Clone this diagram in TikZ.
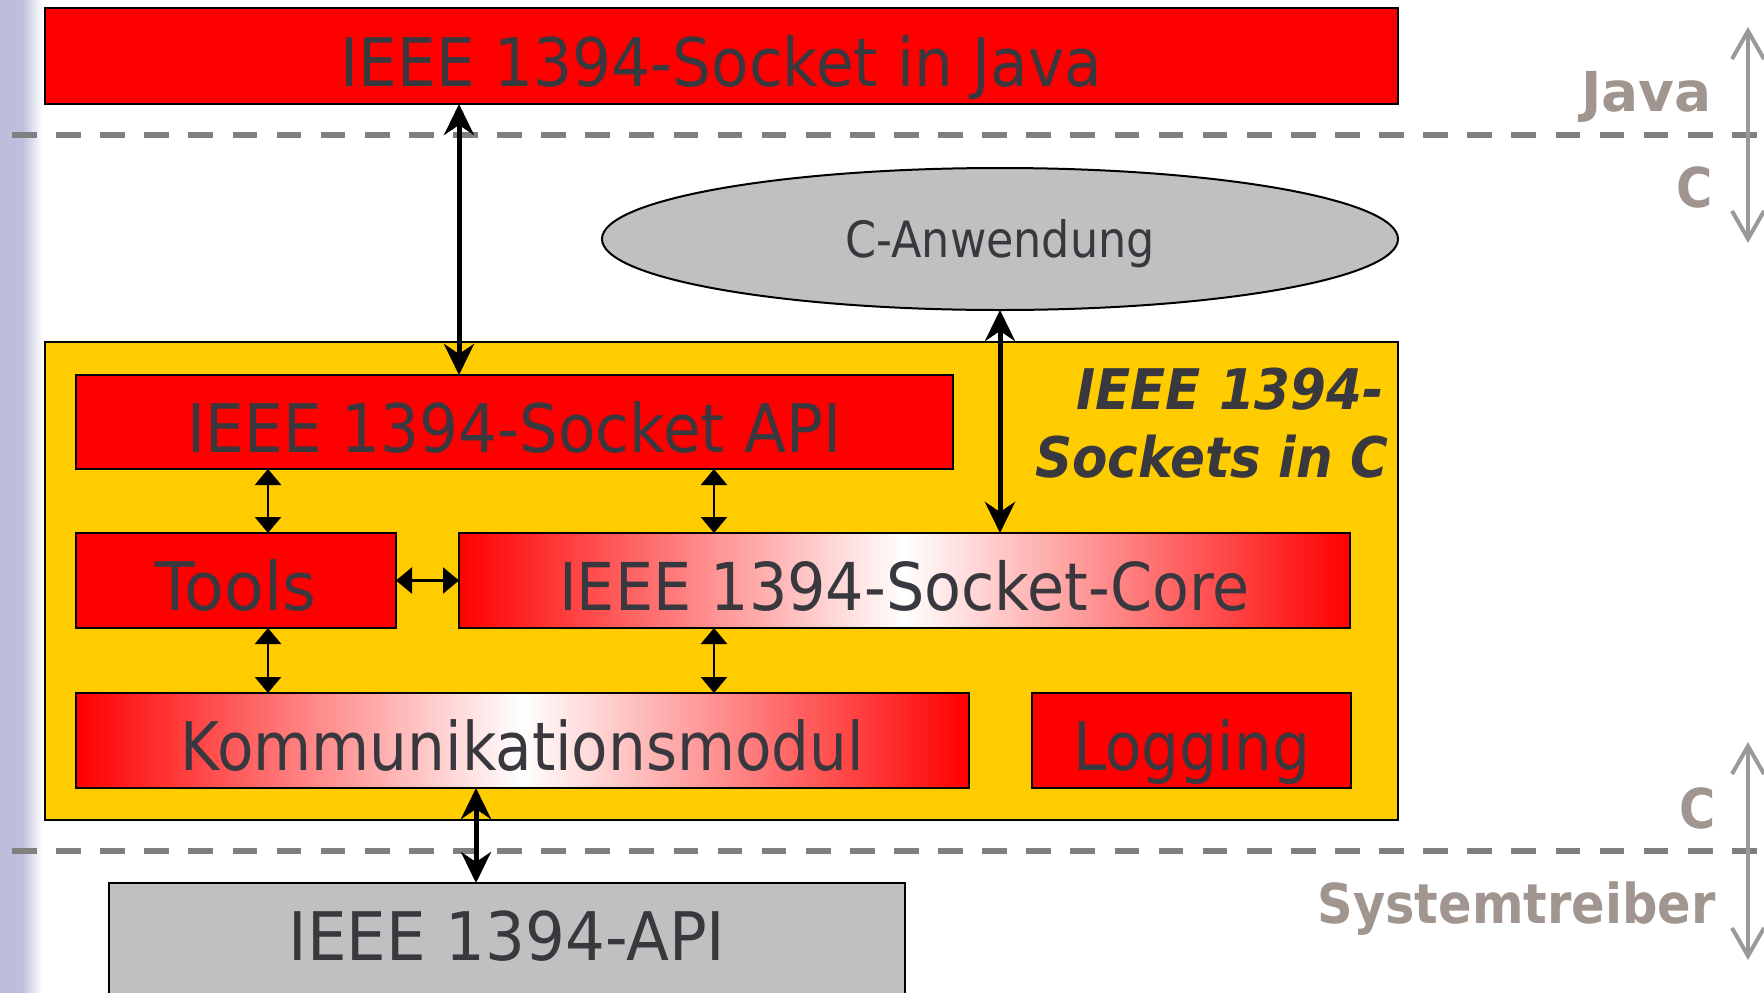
\documentclass[tikz,border=0pt]{standalone}
\usepackage{fontspec}
\usetikzlibrary{arrows.meta,shapes.geometric}
\newfontfamily\tahomaA[FakeStretch=0.89]{DejaVu Sans}
\newfontfamily\tahomaB[FakeStretch=0.915]{DejaVu Sans}
\newfontfamily\tahomaC[FakeStretch=0.935]{DejaVu Sans}
\newfontfamily\tahomaD[FakeStretch=0.97]{DejaVu Sans}
\newfontfamily\tahomabold[FakeStretch=0.9]{DejaVu Sans Bold}
\newfontfamily\tahomaboldw[FakeStretch=1.0]{DejaVu Sans Bold}
\newfontfamily\verdbi[FakeStretch=0.92]{DejaVu Sans Bold Oblique}
\definecolor{txt}{HTML}{38383E}
\definecolor{lblgray}{HTML}{A0968F}
\definecolor{ylw}{HTML}{FFCC00}
\definecolor{gfill}{HTML}{C0C0C0}
\definecolor{dashgray}{HTML}{808080}
\definecolor{sidegray}{HTML}{999999}
\definecolor{lav}{HTML}{BDBEDB}
\tikzset{
  box/.style={draw=black, line width=2pt, inner sep=0pt, outer sep=0pt, anchor=north west,
    text=txt, font={\tahomaB\fontsize{67pt}{80pt}\selectfont}, text height=60pt, text depth=0pt},
  redbox/.style={box, fill=red},
  gradbox/.style={box, left color=red, right color=red, middle color=white},
  layer/.style={draw=dashgray, line width=5.7pt, dash pattern=on 24.7pt off 19.4pt},
  thickarr/.style={line width=5pt, {Stealth[length=31pt,width=30pt,inset=10pt]}-{Stealth[length=31pt,width=30pt,inset=10pt]}},
  thinarr/.style={line width=2.5pt, {Triangle[length=16pt,width=26pt]}-{Triangle[length=16pt,width=26pt]}},
  sidearr/.style={draw=sidegray, line width=4pt, {Straight Barb[length=28pt,width=32pt]}-{Straight Barb[length=28pt,width=32pt]}},
  graylbl/.style={text=lblgray, font={\tahomabold\fontsize{55pt}{66pt}\selectfont}, anchor=base east, inner sep=0pt},
  bilbl/.style={text=txt, font={\verdbi\fontsize{56pt}{68pt}\selectfont}, anchor=base east, inner sep=0pt}
}
\begin{document}
\begin{tikzpicture}[x=1pt,y=-1pt]
\useasboundingbox (0,0) rectangle (1764,993);
\clip (0,0) rectangle (1764,993);
% left strip
\fill[lav] (0,0) rectangle (22,993);
\shade[left color=lav, right color=white] (22,0) rectangle (42,993);
% layer lines
\coordinate (l1a) at (12,135);
\coordinate (l1b) at (1764,135);
\coordinate (l2a) at (12,851);
\coordinate (l2b) at (1764,851);
\draw[layer] (l1a) -- (l1b);
\draw[layer] (l2a) -- (l2b);
% side arrows
\coordinate (s1a) at (1748,27);
\coordinate (s1b) at (1748,243);
\coordinate (s2a) at (1748,742);
\coordinate (s2b) at (1748,960);
\draw[sidearr] (s1a) -- (s1b);
\draw[sidearr] (s2a) -- (s2b);
% side labels
\node[graylbl, font={\tahomaboldw\fontsize{55pt}{66pt}\selectfont}] (ljava) at (1712,111) {Java};
\node[graylbl] (lc1) at (1713,207) {C};
\node[graylbl] (lc2) at (1716,828) {C};
\node[graylbl] (lsys) at (1716,923) {Systemtreiber};
% boxes
\node[redbox, minimum width=1353pt, minimum height=96pt] (java) at (45,8) {IEEE 1394-Socket in Java};
\node[box, fill=ylw, minimum width=1353pt, minimum height=478pt] (cbox) at (45,342) {};
\node[bilbl] (t1) at (1384,409) {IEEE 1394-};
\node[bilbl] (t2) at (1389,477) {Sockets in C};
\node[redbox, minimum width=877pt, minimum height=94pt] (api) at (76,375) {IEEE 1394-Socket API};
\node[redbox, minimum width=320pt, minimum height=95pt, font={\tahomaD\fontsize{67pt}{80pt}\selectfont}] (tools) at (76,533) {Tools};
\node[gradbox, minimum width=891pt, minimum height=95pt, font={\tahomaB\fontsize{66pt}{80pt}\selectfont}] (core) at (459,533) {IEEE 1394-Socket-Core};
\node[gradbox, minimum width=893pt, minimum height=95pt, font={\tahomaA\fontsize{67pt}{80pt}\selectfont}] (komm) at (76,693) {Kommunikationsmodul};
\node[redbox, minimum width=319pt, minimum height=95pt, font={\tahomaA\fontsize{67pt}{80pt}\selectfont}] (log) at (1032,693) {Logging};
\node[box, fill=gfill, minimum width=796pt, minimum height=120pt, text height=49pt, text depth=13.6pt, font={\tahomaC\fontsize{67pt}{80pt}\selectfont}] (hwapi) at (109,883) {IEEE 1394-API};
\node[ellipse, draw=black, line width=2pt, fill=gfill, inner sep=0pt, outer sep=0pt,
  minimum width=796pt, minimum height=142pt, text=txt,
  font={\tahomaA\fontsize{50pt}{60pt}\selectfont}, text height=37.4pt, text depth=0pt] (app) at (1000,239) {C-Anwendung};
% connector columns
\coordinate (xa) at (459,0);
\coordinate (xb) at (1000,0);
\coordinate (xc) at (476,0);
\coordinate (xd) at (268,0);
\coordinate (xe) at (714,0);
% connectors
\draw[thickarr] (java.south -| xa) -- (api.north -| xa);
\draw[thickarr] (app.south) -- (core.north -| xb);
\draw[thickarr] (komm.south -| xc) -- (hwapi.north -| xc);
\draw[thinarr] (api.south -| xd) -- (tools.north -| xd);
\draw[thinarr] (api.south -| xe) -- (core.north -| xe);
\draw[thinarr] (tools.east) -- (core.west);
\draw[thinarr] (tools.south -| xd) -- (komm.north -| xd);
\draw[thinarr] (core.south -| xe) -- (komm.north -| xe);
\end{tikzpicture}
\end{document}
